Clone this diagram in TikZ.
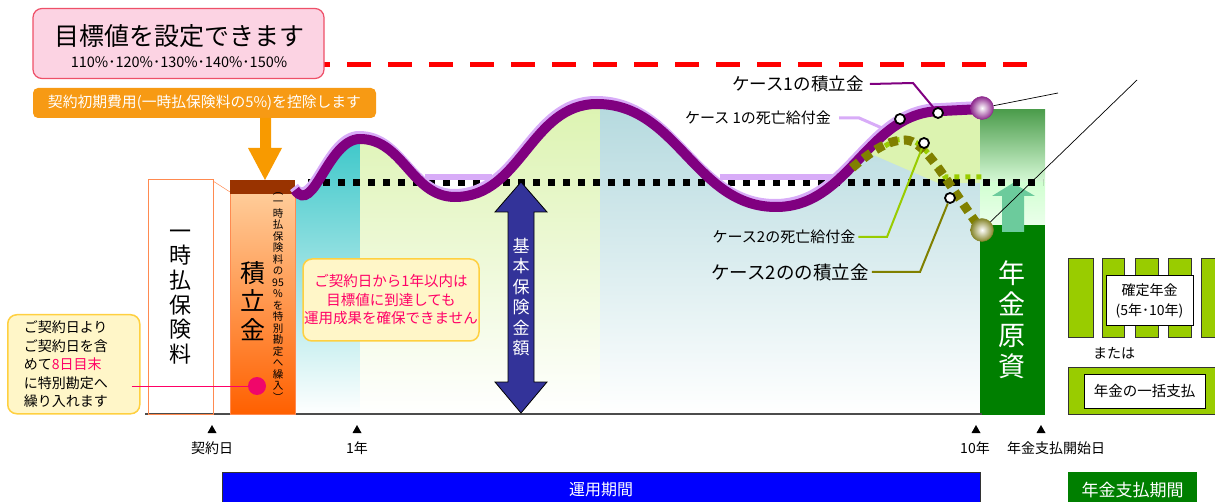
\documentclass[tikz,border=0pt]{standalone}
\usepackage{fontspec}
\setmainfont{Noto Sans CJK JP}
\usetikzlibrary{calc}

\definecolor{titlepink}{HTML}{FCD3E3}
\definecolor{titleedge}{HTML}{EE5068}
\definecolor{feeorange}{HTML}{F79A14}
\definecolor{arroworange}{HTML}{F89A00}
\definecolor{bandbrown}{HTML}{993300}
\definecolor{peach}{HTML}{FFCC99}
\definecolor{deeporange}{HTML}{FF6000}
\definecolor{coledge}{HTML}{FF8A50}
\definecolor{dotpink}{HTML}{F0066A}
\definecolor{notepink}{HTML}{FF0066}
\definecolor{calloutfill}{HTML}{FFF6C8}
\definecolor{calloutedge}{HTML}{FFD040}
\definecolor{caseone}{HTML}{800080}
\definecolor{lavender}{HTML}{D8ACF8}
\definecolor{olive}{HTML}{808000}
\definecolor{ygreen}{HTML}{99CC00}
\definecolor{pensiongreen}{HTML}{007F00}
\definecolor{navy}{HTML}{333399}
\definecolor{barblue}{HTML}{0000FF}
\definecolor{tealtop}{HTML}{38C6C8}
\definecolor{greentop}{HTML}{DCF3B0}
\definecolor{bluetop}{HTML}{B4D9DE}
\definecolor{ballpurple}{HTML}{8E2A8E}
\definecolor{ballolive}{HTML}{85852A}
\definecolor{arrowmint}{HTML}{6CCB9C}

% accumulated value, case 1
\newcommand{\caseonepath}{(295,190) to[out=-55,in=180] (360,139) to[out=0,in=180] (455,197) to[out=0,in=180] (597,104) to[out=0,in=180] (776,207) to[out=0,in=180] (942,111) -- (982,109)}
\newcommand{\tickmark}[1]{\fill (#1,425) -- (#1+4.5,433) -- (#1-4.5,433) -- cycle;}

\begin{document}
\begin{tikzpicture}[x=1pt,y=-1pt,
  every node/.style={inner sep=0pt},
  vtext/.style={align=center},
  callout/.style={draw=calloutedge, fill=calloutfill, line width=1.5pt, rounded corners=9pt},
  marker/.style={circle, draw=black, fill=white, line width=1.8pt, minimum size=10pt},
  ball/.style={circle, minimum size=23pt, inner color=white},
  greenbar/.style={draw=black!80, fill=ygreen, line width=0.8pt},
  whitebox/.style={draw=black, fill=white, line width=1pt}]
\useasboundingbox (0,0) rectangle (1215,502);

% backgrounds under the curve
\begin{scope}
\clip \caseonepath -- (982,414) -- (295,414) -- cycle;
\shade[top color=tealtop, bottom color=white] (295,130) rectangle (360,414);
\shade[top color=greentop, bottom color=white] (360,100) rectangle (600,414);
\shade[top color=bluetop, bottom color=white] (600,100) rectangle (982,414);
\fill[greentop] (862,100) -- (982,100) -- (982,183) -- (938,183) -- (862,150) -- cycle;
\end{scope}

% target line
\draw[red, line width=5pt, dash pattern=on 24pt off 17pt] (306,65) -- (1027,65);

% pension fund column
\shade[top color=green!45!black!70, bottom color=black!10!green!15] (980,110) rectangle (1045,183);
\shade[top color=green!18, bottom color=green!8] (980,183) rectangle (1045,225);
\fill[pensiongreen] (980,225) rectangle (1045,415);
\fill[arrowmint] (1002,232) -- (1002,196) -- (992,196) -- (1013,183) -- (1035,196) -- (1024,196) -- (1024,232) -- cycle;
\node[vtext, text=white, font=\fontsize{27}{31}\selectfont] (fund) at (1012,320) {年\\金\\原\\資};

% axis
\draw[black!70, line width=1.5pt] (145,414) -- (982,414);

% single premium
\draw[coledge, line width=1pt] (148,180) rectangle (213,414);
\draw[coledge, line width=0.5pt] (213,181) -- (230,192);
\node[vtext, font=\fontsize{22}{24.6}\selectfont] (premium) at (180.5,297) {一\\時\\払\\保\\険\\料};

\shade[top color=peach, bottom color=deeporange] (230,193) rectangle (295,414);
\draw[coledge, line width=0.8pt] (230,193) rectangle (295,414);
\fill[bandbrown] (230,180) rectangle (295,194);
\node[vtext, font=\fontsize{25}{28.5}\selectfont] (reserve) at (253,301) {積\\立\\金};
\node[vtext, font=\fontsize{10.5}{11.5}\selectfont] (transfer) at (278,297) {︵\\一\\時\\払\\保\\険\\料\\の\\95\\\%\\を\\特\\別\\勘\\定\\へ\\繰\\入\\︶};
\node[circle, fill=dotpink, minimum size=18pt] (dot) at (257,386) {};

% callouts
\node[callout, anchor=north west, minimum height=99pt, text width=100pt, inner xsep=16pt, align=left,
  font=\fontsize{14}{18.5}\selectfont] (note8) at (7,314) {ご契約日より\\ご契約日を含\\めて\textcolor{notepink}{8日目末}\\に特別勘定へ\\繰り入れます};
\draw[notepink, line width=1pt] ([xshift=-9pt]dot -| note8.east) -- (dot);

\node[callout, minimum width=176pt, minimum height=82pt, align=center, text=notepink,
  font=\fontsize{14.5}{18.5}\selectfont] (oneyear) at (391,300) {ご契約日から1年以内は\\目標値に到達しても\\運用成果を確保できません};

% title and fee
\node[draw=titleedge, fill=titlepink, rounded corners=9pt, minimum width=291pt, minimum height=70pt, line width=1.2pt] (goal) at (178.5,43.5) {};
\node[font=\fontsize{25}{25}\selectfont] (goaltext) at (179,36) {目標値を設定できます};
\node[font=\fontsize{14.5}{14.5}\selectfont] (goalpct) at (179,62) {110\%･120\%･130\%･140\%･150\%};
\node[fill=feeorange, rounded corners=5pt, minimum width=343pt, minimum height=30pt, text=white,
  font=\fontsize{14.8}{14.8}\selectfont] (fee) at (204.5,103) {契約初期費用(一時払保険料の5\%)を控除します};
\fill[arroworange] (260,118) -- (260,148) -- (248,148) -- (265,180) -- (282,148) -- (271,148) -- (271,118) -- cycle;

% basic sum insured
\draw[dotted, line width=7pt, dash pattern=on 7pt off 8pt] (308,183) -- (1043,183);
\filldraw[fill=navy, draw=black, line width=0.8pt] (521,182) -- (547,212) -- (534,212) -- (534,382) -- (547,382) -- (521,413)
  -- (495,382) -- (508,382) -- (508,212) -- (495,212) -- cycle;
\node[vtext, text=white, font=\fontsize{17}{20.5}\selectfont] (basic) at (521,297) {基\\本\\保\\険\\金\\額};

% case curves
\draw[lavender, line width=10pt, shift={(-1,-3)}] \caseonepath;
\draw[lavender, line width=6pt] (425,177) -- (492,177);
\draw[lavender, line width=6pt] (720,177) -- (835,177);
\draw[caseone, line width=10pt] \caseonepath;
\draw[ygreen, line width=5pt, dash pattern=on 5pt off 6pt] (885,146) .. controls (895,140) .. (905,139) .. controls (920,139) and (935,160) .. (945,177) -- (984,177);
\draw[olive, line width=9pt, dash pattern=on 9pt off 6pt] (852,168) .. controls (875,148) and (890,140) .. (905,140) .. controls (925,140) and (945,180) .. (980,228);

% labels
\node[font=\fontsize{17.5}{17.5}\selectfont] (c1acc) at (798,84) {ケース1の積立金};
\node[font=\fontsize{15}{15}\selectfont] (c1death) at (758,118) {ケース 1の死亡給付金};
\node[font=\fontsize{15}{15}\selectfont] (c2death) at (784,237) {ケース2の死亡給付金};
\node[font=\fontsize{18.5}{18.5}\selectfont] (c2acc) at (790,272) {ケース2のの積立金};
\coordinate (c1deathend) at (882,128);
\draw[lavender, line width=3pt] ([xshift=8pt]c1death.east) -- ++(20,0) -- (c1deathend);

\node[marker] (m1) at (900,119) {};
\node[marker] (m2) at (938,113) {};
\node[marker] (m3) at (924,143) {};
\node[marker] (m4) at (950,198) {};
\draw[caseone, line width=2pt] ([xshift=6pt]c1acc.east) -- (913,83) -- (m2);
\draw[ygreen, line width=2pt] ([xshift=3pt]c2death.east) -- (887,237) -- (m3);
\draw[olive, line width=2pt] ([xshift=3pt]c2acc.east) -- (920,272) -- (m4);

\node[ball, outer color=ballpurple, draw=ballpurple, line width=0.4pt] (endone) at (982,108) {};
\node[ball, outer color=ballolive, draw=ballolive, line width=0.4pt] (endtwo) at (982,230) {};
\coordinate (endonetip) at (1058,93);
\coordinate (endtwotip) at (1137,80);
\draw[line width=0.7pt] (endone) -- (endonetip);
\draw[line width=0.7pt] (endtwo) -- (endtwotip);

% payout options
\foreach \bx/\bw in {1068/25, 1102/22, 1135/23, 1168/23, 1201/25}
  \draw[greenbar] (\bx,258) rectangle ++(\bw,79);
\node[whitebox, minimum width=87pt, minimum height=50pt, align=center, font=\fontsize{14}{20}\selectfont] (fixed) at (1149.5,301) {確定年金\\(5年･10年)};
\node[font=\fontsize{14}{14}\selectfont] (orelse) at (1114,353) {または};
\draw[greenbar] (1068,367) rectangle (1225,414);
\node[whitebox, minimum width=121pt, minimum height=34pt, font=\fontsize{14.5}{14.5}\selectfont] (lump) at (1144.5,391) {年金の一括支払};

% time axis
\tickmark{212}
\tickmark{357}
\tickmark{976}
\tickmark{1041}
\node[font=\fontsize{14}{14}\selectfont] (contract) at (212,448) {契約日};
\node[font=\fontsize{14}{14}\selectfont] (year1) at (357,448) {1年};
\node[font=\fontsize{14}{14}\selectfont] (year10) at (975,448) {10年};
\node[font=\fontsize{14}{14}\selectfont] (paystart) at (1056,448) {年金支払開始日};

\node[draw=black!80, fill=barblue, minimum width=758pt, minimum height=36pt, text=white,
  font=\fontsize{16}{16}\selectfont] (opperiod) at (601,490) {運用期間};
\node[fill=pensiongreen, minimum width=129pt, minimum height=36pt, text=white,
  font=\fontsize{17}{17}\selectfont] (payperiod) at (1132.5,490) {年金支払期間};
\end{tikzpicture}
\end{document}
